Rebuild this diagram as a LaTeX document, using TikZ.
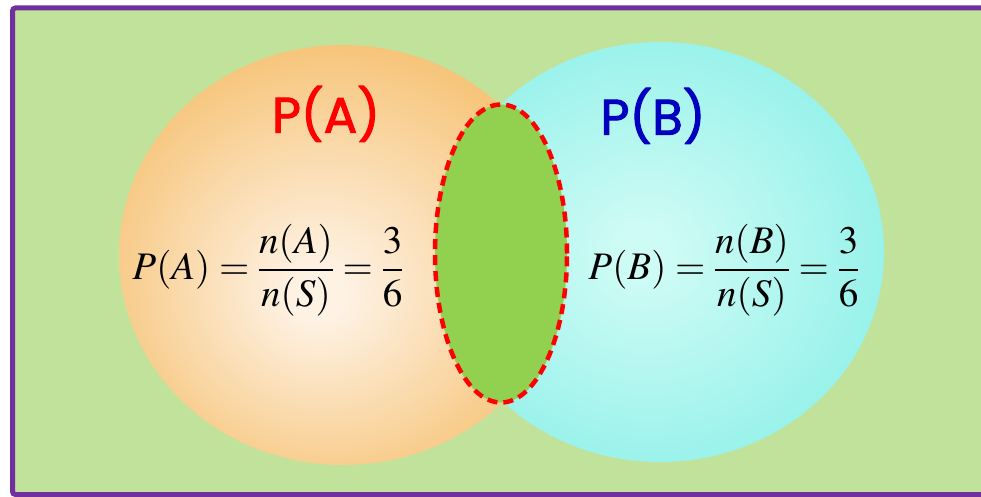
\documentclass[tikz,border=0pt]{standalone}
\usepackage{mathptmx}
\usepackage[no-math]{fontspec}
\usepackage{tikz}
\usetikzlibrary{shapes.geometric, positioning}
\newfontfamily\labelfont{Poppins}[UprightFeatures={FakeBold=2}]
\definecolor{BackGreen}{RGB}{193,226,154}
\definecolor{FramePurple}{RGB}{112,48,160}
\definecolor{LensGreen}{RGB}{146,208,80}
\definecolor{OrangeOut}{RGB}{245,188,102}
\definecolor{OrangeIn}{RGB}{254,242,228}
\definecolor{CyanOut}{RGB}{138,240,232}
\definecolor{CyanIn}{RGB}{206,251,245}
\definecolor{LabelBlue}{RGB}{0,0,192}
\pgfdeclareradialshading{orangeglow}{\pgfpoint{-3bp}{-5bp}}{color(0bp)=(OrangeIn); color(3bp)=(OrangeIn); color(32bp)=(OrangeOut); color(50bp)=(OrangeOut)}
\pgfdeclareradialshading{cyanglow}{\pgfpoint{-2bp}{0bp}}{color(0bp)=(CyanIn); color(3bp)=(CyanIn); color(32bp)=(CyanOut); color(50bp)=(CyanOut)}

\begin{document}
\begin{tikzpicture}[x=1pt, y=-1pt,
		setbox/.style={ellipse, minimum width=448pt, minimum height=420pt, inner sep=0pt, shade},
		lens/.style={ellipse, minimum width=132pt, minimum height=298pt, inner sep=0pt, fill=LensGreen,
			draw=red, line width=4.5pt, dash pattern=on 10pt off 6pt},
		ttl/.style={font=\labelfont\fontsize{50}{54}\selectfont},
		frm/.style={font=\fontsize{39}{44}\selectfont, inner sep=0pt}]
	\useasboundingbox (0,0) rectangle (981,497);
	\clip (0,0) rectangle (981,497);
	\draw[draw=FramePurple, line width=5pt, fill=BackGreen, rounded corners=3pt] (12.5,8) rectangle (1000,494.5);
	\node[setbox, shading=orangeglow] (A) at (343,255) {};
	\node[setbox, shading=cyanglow] (B) at (660,252) {};
	\node[lens] (AB) at (501,253.5) {};
	\node[ttl, red] (pa) at (326,114) {P(A)};
	\node[ttl, LabelBlue] (pb) at (653,116) {P(B)};
	\node[frm] (fa) at (268,270) {$\displaystyle P(A)=\frac{n(A)}{n(S)}=\frac{3}{6}$};
	\node[frm] (fb) at (724,270) {$\displaystyle P(B)=\frac{n(B)}{n(S)}=\frac{3}{6}$};
\end{tikzpicture}
\end{document}
